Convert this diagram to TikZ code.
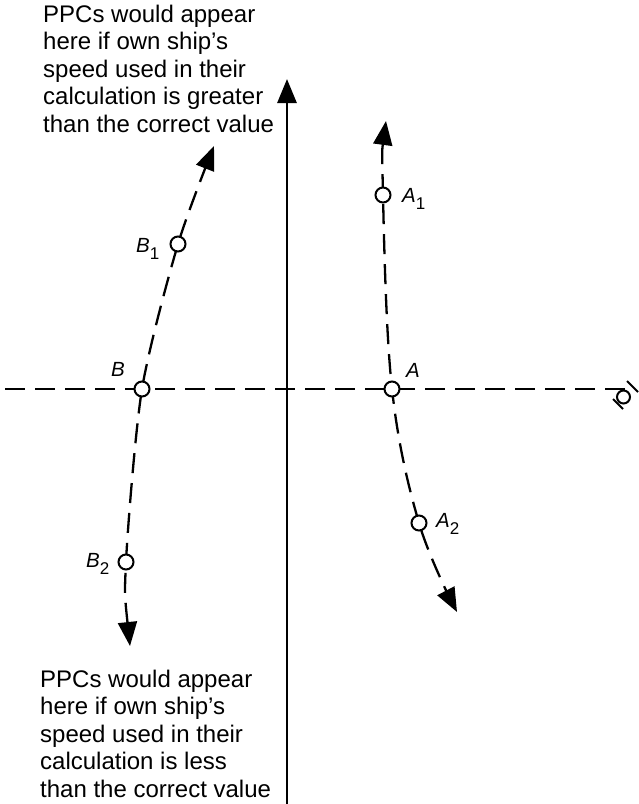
\documentclass[tikz,border=0pt]{standalone}
\usepackage{fontspec}
\setmainfont{Liberation Sans}
\usetikzlibrary{arrows.meta}
\newcommand\ptlab[2]{\textit{#1}\raisebox{-7pt}{\fontsize{17}{17}\selectfont\upshape #2}}
\begin{document}
\begin{tikzpicture}[x=1pt,y=-1pt,
  dashline/.style={line width=2.3pt, dash pattern=on 20pt off 10pt},
  tipend/.style={-{Triangle[length=24pt,width=19pt]}},
  tipboth/.style={{Triangle[length=24pt,width=19pt]}-{Triangle[length=24pt,width=19pt]}},
  pt/.style={circle, draw, fill=white, line width=2pt, minimum size=15pt, inner sep=0pt},
  lbl/.style={font=\fontsize{20.5}{20}\selectfont, anchor=base west, inner sep=0pt},
  txt/.style={font=\fontsize{24}{27}\selectfont, anchor=base west, inner sep=0pt}]
\useasboundingbox (0,0) rectangle (639,804);

% coordinates
\coordinate (hl) at (0,389);
\coordinate (hr) at (629,389);
\coordinate (vb) at (287,804);
\coordinate (vt) at (287,79);
\coordinate (b2) at (126,562);
\coordinate (b) at (142,389);
\coordinate (b1) at (178,244);
\coordinate (tb1) at (214,146);
\coordinate (tb2) at (130,646);
\coordinate (a1) at (383,195);
\coordinate (a) at (392,389);
\coordinate (a2) at (419,523);
\coordinate (ta1) at (386,121);
\coordinate (ta2) at (457,612);

% axes
\draw[dashline, dash phase=25pt] (hl) -- (hr);
\draw[line width=2.8pt, tipend] (vb) -- (vt);

% curves
\draw[dashline, tipboth] plot[smooth, tension=0.45] coordinates {(tb2) (b2) (b) (b1) (tb1)};
\draw[dashline, tipboth] plot[smooth, tension=0.6] coordinates {(ta1) (a1) (a) (a2) (ta2)};

% points
\node[pt] (B) at (b) {};
\node[pt] (B1) at (b1) {};
\node[pt] (B2) at (b2) {};
\node[pt] (A) at (a) {};
\node[pt] (A1) at (a1) {};
\node[pt] (A2) at (a2) {};

% labels
\node[lbl] (LB) at (111,376) {\textit{B}};
\node[lbl] (LA) at (406,377) {\textit{A}};
\node[lbl] (LA1) at (402,202) {\ptlab{A}{1}};
\node[lbl] (LA2) at (436,527) {\ptlab{A}{2}};
\node[lbl] (LB1) at (136,252) {\ptlab{B}{1}};
\node[lbl] (LB2) at (86,567) {\ptlab{B}{2}};

% own ship symbol
\node[circle, draw, line width=2pt, minimum size=13pt, inner sep=0pt] (OS) at (623.5,397) {};
\draw[line width=2pt] (627,381) -- (638,392);
\draw[line width=2pt] (613,399) -- (623,409);

% texts
\node[txt] (t1) at (43,22) {PPCs would appear};
\node[txt] (t2) at (43,49.5) {here if own ship’s};
\node[txt] (t3) at (43,77) {speed used in their};
\node[txt] (t4) at (43,104.5) {calculation is greater};
\node[txt] (t5) at (43,132) {than the correct value};

\node[txt] (u1) at (40,687) {PPCs would appear};
\node[txt] (u2) at (40,714.5) {here if own ship’s};
\node[txt] (u3) at (40,742) {speed used in their};
\node[txt] (u4) at (40,769.5) {calculation is less};
\node[txt] (u5) at (40,797) {than the correct value};
\end{tikzpicture}
\end{document}
